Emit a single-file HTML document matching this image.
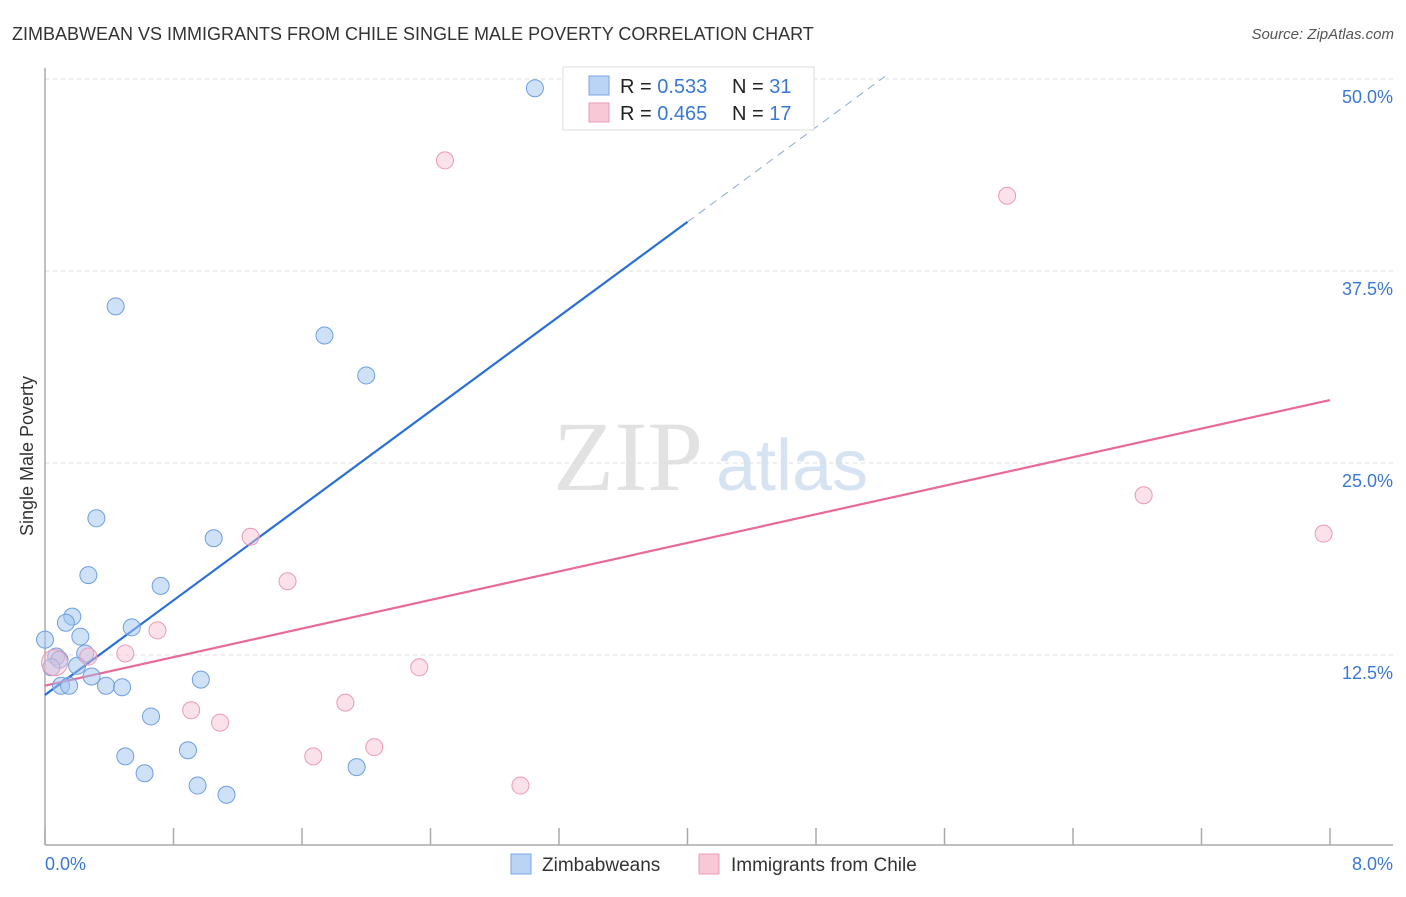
<!DOCTYPE html>
<html><head><meta charset="utf-8"><style>
body{margin:0;background:#fff;font-family:"Liberation Sans",sans-serif}
svg text{font-family:"Liberation Sans",sans-serif}
</style></head><body>
<svg id="chart" width="1406" height="892" viewBox="0 0 1406 892" xmlns="http://www.w3.org/2000/svg">
<text x="12" y="40" font-size="18" fill="#333">ZIMBABWEAN VS IMMIGRANTS FROM CHILE SINGLE MALE POVERTY CORRELATION CHART</text>
<text x="1394" y="39" font-size="15" fill="#555" font-style="italic" text-anchor="end">Source: ZipAtlas.com</text>
<g>
<text x="553" y="490" font-size="100" fill="#e2e2e2" style="font-family:'Liberation Serif',serif">ZIP</text>
<text x="716" y="490" font-size="72" fill="#d6e3f3">atlas</text>
</g>
<text transform="translate(33,456) rotate(-90)" font-size="18" fill="#333" text-anchor="middle">Single Male Poverty</text>
<g id="grid"></g><g id="axes"></g><g id="lines"></g><g id="points"></g>
<g>
<rect x="563" y="67" width="251" height="63" fill="#fff" stroke="#ddd"/>
<rect x="589" y="76" width="20" height="19" fill="#b9d4f5" stroke="#7aa6e0"/>
<rect x="589" y="103" width="20" height="19" fill="#f9c8d6" stroke="#eb9ab2"/>
<text x="620" y="93" font-size="20" fill="#222">R = <tspan fill="#3a78d4">0.533</tspan></text>
<text x="732" y="93" font-size="20" fill="#222">N = <tspan fill="#3a78d4">31</tspan></text>
<text x="620" y="120" font-size="20" fill="#222">R = <tspan fill="#3a78d4">0.465</tspan></text>
<text x="732" y="120" font-size="20" fill="#222">N = <tspan fill="#3a78d4">17</tspan></text>
</g>
<g>
<rect x="511" y="854" width="20" height="20" fill="#b9d4f5" stroke="#7aa6e0"/>
<text x="542" y="871" font-size="19" fill="#333">Zimbabweans</text>
<rect x="699" y="854" width="20" height="20" fill="#f9c8d6" stroke="#eb9ab2"/>
<text x="731" y="871" font-size="19" fill="#333">Immigrants from Chile</text>
</g>
</svg>
<script>
const blueX=[3.05,0.44,1.74,2.00,0.32,1.05,0.27,0.72,0.17,0.13,0.22,0.54,0.0,0.07,0.25,0.09,0.04,0.20,0.29,0.10,0.15,0.38,0.48,0.97,0.66,0.89,0.50,0.62,1.94,0.95,1.13];
const blueY=[49.4,35.2,33.3,30.7,21.4,20.1,17.7,17.0,15.0,14.6,13.7,14.3,13.5,12.4,12.6,12.2,11.7,11.8,11.1,10.5,10.5,10.5,10.4,10.9,8.5,6.3,5.9,4.8,5.2,4.0,3.4];
const pinkX=[2.49,5.99,6.84,7.96,1.28,1.51,0.70,0.50,0.27,0.06,2.33,0.91,1.87,1.09,2.05,1.67,2.96];
const pinkY=[44.7,42.4,22.9,20.4,20.2,17.3,14.1,12.6,12.4,12.0,11.7,8.9,9.4,8.1,6.5,5.9,4.0];
const yTicks=[12.5,25.0,37.5,50.0];
const blueFit=[9.9,7.7]; // intercept, slope
const pinkFit=[10.5,2.325];
const NS="http://www.w3.org/2000/svg";
const X0=45,X1=1330,Y0=847,PX=192/12.5;
const sx=v=>X0+(X1-X0)*v/8, sy=v=>Y0-v*PX;
function mk(t,a,p){const e=document.createElementNS(NS,t);for(const k in a)e.setAttribute(k,a[k]);document.getElementById(p).appendChild(e);return e;}
yTicks.forEach(t=>{
 const l=mk('line',{x1:45,x2:1393,y1:sy(t),y2:sy(t),stroke:'#ddd','stroke-dasharray':'4,4'},'grid');
 
 
 const tx=mk('text',{x:1393,y:sy(t)+24,'font-size':18,fill:'#3a78d4','text-anchor':'end'},'grid');
 
 
 tx.textContent=t.toFixed(1)+'%';
});
let a=mk('line',{x1:45,x2:45,y1:68,y2:845,stroke:'#aaa','stroke-width':1.5},'axes');


a=mk('line',{x1:45,x2:1393,y1:845,y2:845,stroke:'#aaa','stroke-width':1.5},'axes');


for(let i=0;i<=10;i++){const t=mk('line',{x1:sx(i*0.8),x2:sx(i*0.8),y1:828,y2:845,stroke:'#aaa','stroke-width':1.5},'axes');
 
 }
[[0,'0.0%','start',45],[8,'8.0%','end',1393]].forEach(d=>{const t=mk('text',{x:d[3],y:870,'font-size':18,fill:'#3a78d4','text-anchor':d[2]},'axes');
 
 
 t.textContent=d[1];});
function fit(f,xa,xb,col,dash,name){const l=mk('line',{x1:sx(xa),y1:sy(f[0]+f[1]*xa),x2:sx(xb),y2:sy(f[0]+f[1]*xb),stroke:col,'stroke-width':dash?1:2.2},'lines');
 if(dash)l.setAttribute('stroke-dasharray','8,6');
 
 }
fit(blueFit,0,4.0,'#2a6fd6',false,'zimbabweans-trendline');
fit(blueFit,4.0,5.23,'#8aaad8',true,'zimbabweans-trendline-extension');
fit(pinkFit,0,8,'#e8699a',false,'chile-trendline');
blueX.forEach((x,i)=>{const c=mk('circle',{cx:sx(x),cy:sy(blueY[i]),r:8.5,fill:'rgba(160,196,240,0.5)',stroke:'#6e9fe0','stroke-width':1},'points');
 
 });
pinkX.forEach((x,i)=>{const c=mk('circle',{cx:sx(x),cy:sy(pinkY[i]),r:i==9?13:8.5,fill:'rgba(247,190,208,0.45)',stroke:'#ec9ab4','stroke-width':1},'points');
 
 });
</script>
</body></html>
